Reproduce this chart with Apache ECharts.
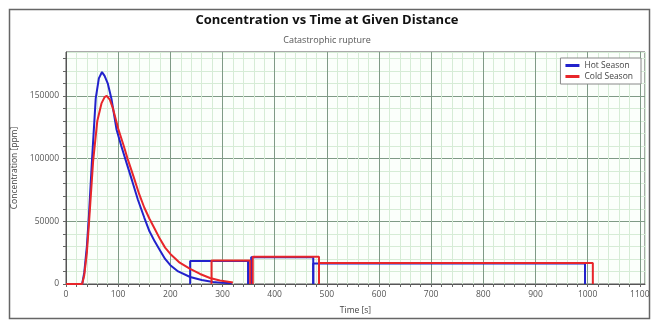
<!DOCTYPE html>
<html>
<head>
<meta charset="utf-8">
<script src="https://cdn.jsdelivr.net/npm/echarts@6/dist/echarts.min.js"></script>
<style>
html,body{margin:0;padding:0;background:#fff;}
#chart{width:654px;height:323px;}
</style>
</head>
<body>
<div id="chart"></div>
<script>
// ---- Data ----
const titleText = 'Concentration vs Time at Given Distance';
const subtitleText = 'Catastrophic rupture';
const xAxisName = 'Time [s]';
const yAxisName = 'Concentration [ppm]';
const seriesNames = ['Hot Season', 'Cold Season'];

// Hot season main puff curve
const hotCurveTime = [0, 31, 35, 40, 44, 50, 57, 63, 69, 74, 80, 87, 97, 106, 115, 127, 138, 150, 160, 170, 180, 190, 200, 215, 238, 260, 282, 300, 318];
const hotCurveConc = [0, 0, 9000, 30000, 55000, 100000, 148000, 164000, 169000, 166000, 160000, 148000, 123000, 110000, 98000, 82000, 67000, 53000, 42000, 34000, 27000, 20000, 15000, 10000, 5600, 3200, 1600, 900, 500];
// Hot season plateau blocks
const hotBlockStart = [238, 355, 474];
const hotBlockEnd   = [349, 474, 995];
const hotBlockLevel = [18400, 21400, 16400];

// Cold season main puff curve
const coldCurveTime = [0, 31, 35, 40, 44, 52, 60, 68, 74, 78, 84, 90, 100, 110, 118, 130, 140, 150, 160, 170, 180, 190, 200, 218, 238, 257, 276, 295, 314, 320];
const coldCurveConc = [0, 0, 7000, 25000, 48000, 98000, 130000, 144000, 149000, 150000, 147000, 140000, 124000, 111000, 100000, 85000, 72000, 61000, 52000, 44000, 36000, 29000, 24000, 17000, 12000, 8000, 4800, 2800, 1600, 1200];
// Cold season plateau blocks
const coldBlockStart = [279, 358, 485];
const coldBlockEnd   = [353, 485, 1010];
const coldBlockLevel = [18800, 21800, 16800];

// Axes
const xMin = 0, xMax = 1110, xStep = 20, xLabelStep = 100;
const yMin = 0, yMax = 185000, yStep = 10000, yLabelStep = 50000;

const hotColor = '#2222cc';
const coldColor = '#e8262a';

function curve(ts, cs) { return ts.map((t, i) => [t, cs[i]]); }
function block(t0, t1, h) { return [[t0, 0], [t0, h], [t1, h], [t1, 0]]; }

const series = [];
function addSeason(name, color, ts, cs, bs, be, bl) {
  series.push({ name, type: 'line', data: curve(ts, cs), showSymbol: false, symbol: 'none',
    lineStyle: { color, width: 2 }, itemStyle: { color }, animation: false });
  for (let i = 0; i < bs.length; i++) {
    series.push({ name, type: 'line', data: block(bs[i], be[i], bl[i]), showSymbol: false, symbol: 'none',
      lineStyle: { color, width: 2 }, itemStyle: { color }, animation: false });
  }
}
addSeason(seriesNames[0], hotColor, hotCurveTime, hotCurveConc, hotBlockStart, hotBlockEnd, hotBlockLevel);
addSeason(seriesNames[1], coldColor, coldCurveTime, coldCurveConc, coldBlockStart, coldBlockEnd, coldBlockLevel);

const majorGrid = '#7f9a86';
const minorGrid = '#d6ecd6';
const font = '"Open Sans", "Noto Sans", sans-serif';

const chart = echarts.init(document.getElementById('chart'), null, { renderer: 'canvas' });
chart.setOption({
  animation: false,
  backgroundColor: '#fff',
  title: [
    { text: titleText, left: 'center', top: 9,
      textStyle: { fontFamily: font, fontSize: 13, fontWeight: 'bold', color: '#111' } },
    { text: subtitleText, left: 'center', top: 31,
      textStyle: { fontFamily: font, fontSize: 9, fontWeight: 'normal', color: '#555' } }
  ],
  legend: {
    data: seriesNames, orient: 'vertical', right: 13, top: 58,
    backgroundColor: '#fff', borderColor: '#888', borderWidth: 1, padding: [3, 8, 3, 5],
    itemGap: 2, itemWidth: 14, itemHeight: 3, icon: 'rect',
    textStyle: { fontFamily: font, fontSize: 8.5, color: '#444' }
  },
  grid: { left: 66, right: 9, top: 52, bottom: 39, show: true, borderColor: '#555', borderWidth: 1, backgroundColor: '#fbfffb' },
  xAxis: {
    type: 'value', min: xMin, max: xMax, interval: xStep,
    name: xAxisName, nameLocation: 'middle', nameGap: 22,
    nameTextStyle: { fontFamily: font, fontSize: 8.5, color: '#444' },
    axisLine: { show: true, lineStyle: { color: '#555' } },
    axisTick: { show: true, length: 3, lineStyle: { color: '#666' } },
    axisLabel: { fontFamily: font, fontSize: 8.5, color: '#555', margin: 6, showMaxLabel: false,
      formatter: v => (v % xLabelStep === 0 ? String(v) : '') },
    splitLine: { show: true, lineStyle: { width: 1, color: [majorGrid, minorGrid, minorGrid, minorGrid, minorGrid] } }
  },
  yAxis: {
    type: 'value', min: yMin, max: yMax, interval: yStep,
    name: yAxisName, nameLocation: 'middle', nameGap: 44, nameRotate: 90,
    nameTextStyle: { fontFamily: font, fontSize: 8.5, color: '#444' },
    axisLine: { show: true, lineStyle: { color: '#555' } },
    axisTick: { show: true, length: 3, lineStyle: { color: '#666' } },
    axisLabel: { fontFamily: font, fontSize: 8.5, color: '#555', margin: 7, showMaxLabel: false,
      formatter: v => (v % yLabelStep === 0 ? String(v) : '') },
    splitLine: { show: true, lineStyle: { width: 1, color: [majorGrid, minorGrid, minorGrid, minorGrid, minorGrid] } }
  },
  graphic: [
    { type: 'rect', left: 7, top: 7, shape: { width: 640, height: 309 }, silent: true, z: -1,
      style: { fill: 'none', stroke: '#666', lineWidth: 1.5 } }
  ],
  series
});
</script>
</body>
</html>
